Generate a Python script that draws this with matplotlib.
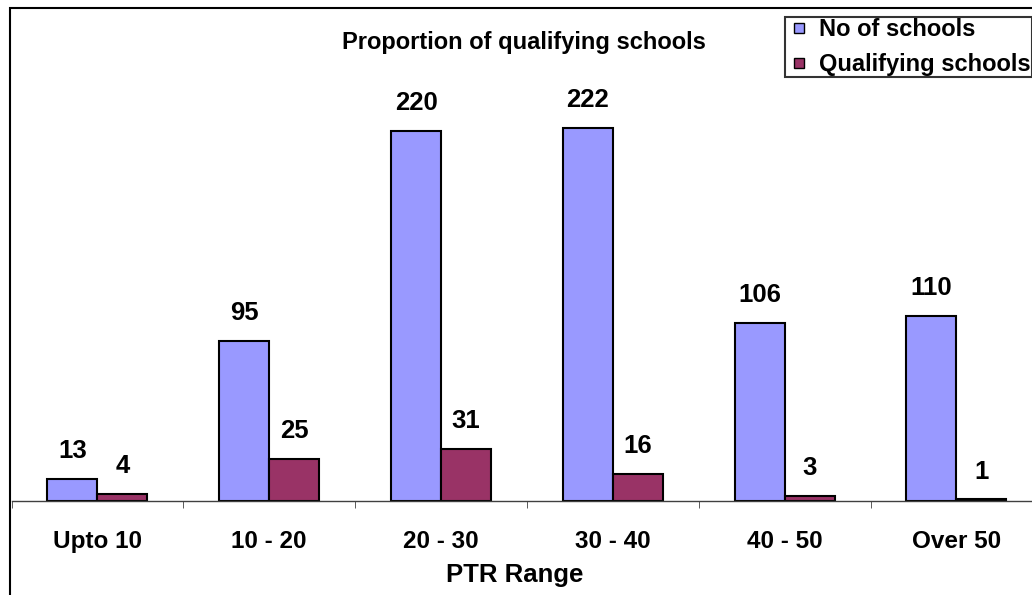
import numpy as np
import matplotlib.pyplot as plt
from matplotlib.patches import Rectangle
from matplotlib.lines import Line2D

plt.rcParams['font.family'] = ['Liberation Sans', 'DejaVu Sans']
plt.rcParams['font.weight'] = 'bold'

# PTR ranges and school counts
ranges = ['Upto 10', '10 - 20', '20 - 30', '30 - 40', '40 - 50', 'Over 50']
no_of_schools = [13, 95, 220, 222, 106, 110]
qualifying = [4, 25, 31, 16, 3, 1]

blue = '#9999FF'
maroon = '#993366'

fig = plt.figure(figsize=(10.32, 5.95), dpi=100)
W, H = 1032, 595

# plot area (pixel layout converted to figure fractions)
left_px, right_px = 11.5, 11.5 + 6 * 171.8
top_px, base_px = 60, 501
ax = fig.add_axes([left_px / W, 1 - base_px / H,
                   (right_px - left_px) / W, (base_px - top_px) / H])
px_per_unit = 1.682
ax.set_ylim(0, (base_px - top_px) / px_per_unit)
ax.set_xlim(-0.5, len(ranges) - 0.5)

x = np.arange(len(ranges))
bw = 0.291
ax.bar(x - bw / 2, no_of_schools, bw, color=blue, edgecolor='black', linewidth=1.5)
ax.bar(x + bw / 2, qualifying, bw, color=maroon, edgecolor='black', linewidth=1.5)

for xi, v in zip(x - bw / 2, no_of_schools):
    ax.annotate(str(v), (xi, v), xytext=(0, 20), textcoords='offset points',
                ha='center', va='center', fontsize=18.5, fontweight='bold')
for xi, v in zip(x + bw / 2, qualifying):
    ax.annotate(str(v), (xi, v), xytext=(0, 20), textcoords='offset points',
                ha='center', va='center', fontsize=18.5, fontweight='bold')

for s in ['left', 'top', 'right']:
    ax.spines[s].set_visible(False)
ax.spines['bottom'].set_color('#404040')
ax.spines['bottom'].set_linewidth(1)
ax.set_yticks([])
ax.set_xticks(x)
ax.set_xticklabels(ranges, fontsize=17.5, fontweight='bold')
ax.tick_params(axis='x', which='major', length=0, pad=21)
ax.set_xticks(np.arange(-0.5, len(ranges)), minor=True)
ax.tick_params(axis='x', which='minor', length=5, color='#404040')

fig.text(524 / W, 1 - 42 / H, 'Proportion of qualifying schools',
         ha='center', va='center', fontsize=17, fontweight='bold')
fig.text(515 / W, 1 - 575 / H, 'PTR Range',
         ha='center', va='center', fontsize=18.5, fontweight='bold')

# chart border
fig.patches.append(Rectangle((10 / W, -0.1), 1.2, 1.1 - 8 / H,
                             transform=fig.transFigure, fill=False,
                             edgecolor='black', linewidth=1.5))

handles = [Line2D([], [], linestyle='none', marker='s', markersize=7,
                  markerfacecolor=c, markeredgecolor='black', markeredgewidth=1)
           for c in (blue, maroon)]
leg = fig.legend(handles, ['No of schools', 'Qualifying schools'],
                 loc='lower left', bbox_to_anchor=(785 / W, 1 - 77 / H),
                 prop={'weight': 'bold', 'size': 17},
                 frameon=True, fancybox=False, edgecolor='black',
                 handlelength=1.1, handletextpad=0.3,
                 borderpad=0.05, labelspacing=0.5, borderaxespad=0)
leg.get_frame().set_linewidth(1.5)

fig.savefig('out.png', dpi=100)
